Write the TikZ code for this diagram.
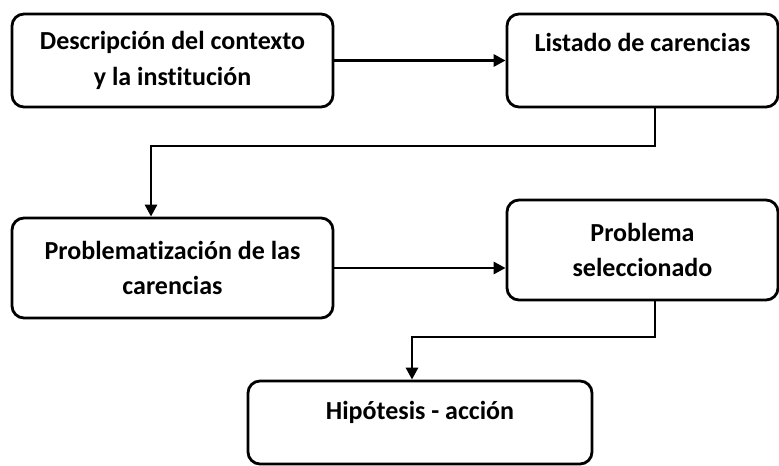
\documentclass[tikz,border=0pt]{standalone}
\usepackage{fontspec}
\setmainfont{Carlito}[Ligatures=CommonOff]
\usetikzlibrary{arrows.meta}

\tikzset{
  etapa/.style={draw, line width=2.1pt, rounded corners=9pt, align=center,
    font=\fontsize{19.5}{26.5}\selectfont\bfseries, inner sep=0pt},
  flujo/.style={line width=2.2pt, -{Triangle[length=9pt,width=9pt]}}
}

\begin{document}
\begin{tikzpicture}[x=0.75pt, y=-0.75pt]
      \useasboundingbox (0,0) rectangle (779,466);

      \node[etapa, minimum width=240.75pt, minimum height=69.75pt] (contexto)
        at (172.5,60.5) {Descripción del contexto\\y la institución};
      \node[etapa, minimum width=203.25pt, minimum height=69.75pt] (listado)
        at (642.5,60.5) {Listado de carencias\\[-8pt]\strut};
      \node[etapa, minimum width=240.75pt, minimum height=75pt] (problematiz)
        at (172.5,268) {Problematización de las\\carencias};
      \node[etapa, minimum width=203.25pt, minimum height=75pt] (problema)
        at (642.5,250) {Problema\\seleccionado};
      \node[etapa, minimum width=258pt, minimum height=62.25pt] (hipotesis)
        at (420,422.5) {Hipótesis - acción\\[-16pt]\strut};

      % codos de los conectores
      \coordinate (codoA) at (655,146);
      \coordinate (codoB) at (151,146);
      \coordinate (codoC) at (655,337);
      \coordinate (codoD) at (412,337);

      \draw[flujo] (contexto.east) -- (listado.west);
      \draw[flujo] (listado.south -| codoA) -- (codoA) -- (codoB) -- (codoB |- problematiz.north);
      \draw[flujo] (problematiz.east) -- (problematiz.east -| problema.west);
      \draw[flujo] (problema.south -| codoC) -- (codoC) -- (codoD) -- (codoD |- hipotesis.north);
    \end{tikzpicture}
\end{document}
